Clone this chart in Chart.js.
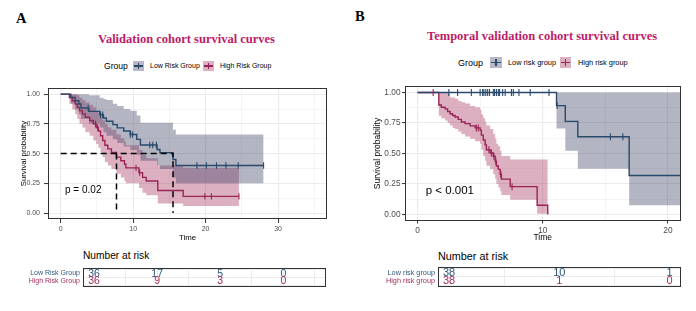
<!DOCTYPE html>
<html>
<head>
<meta charset="utf-8">
<script src="https://cdn.jsdelivr.net/npm/chart.js@4.4.1/dist/chart.umd.min.js"></script>
<style>
body { margin: 0; background: #fff; }
#wrap { position: relative; width: 696px; height: 311px; overflow: hidden; font-family: 'Liberation Sans', Arial, sans-serif; color: #000; }
.abs { position: absolute; white-space: nowrap; }
.tag { font-family: 'Liberation Serif', 'Times New Roman', serif; font-weight: bold; font-size: 14.5px; line-height: 16px; }
.title { font-family: 'Liberation Serif', 'Times New Roman', serif; font-weight: bold; font-size: 12.5px; line-height: 16px; color: #BC1B68; }
.key { position: absolute; }
.key i { position: absolute; display: block; }
.key i.h { left: 1px; right: 1px; top: 50%; height: 1.3px; margin-top: -0.65px; }
.key i.v { top: 20%; bottom: 20%; left: 50%; width: 1.2px; margin-left: -0.6px; }
canvas { position: absolute; }
</style>
</head>
<body>
<div id="wrap">
  <!-- パネルA -->
  <div class="abs tag" style="left:16px;top:10px;">A</div>
  <div class="abs title" style="left:98px;top:31px;">Validation cohort survival curves</div>
  <div class="abs" style="left:104px;top:60px;font-size:8.6px;line-height:12px;">Group</div>
  <div class="key" style="left:133px;top:61px;width:11px;height:10px;background:#B7B7C6;"><i class="h" style="background:#29496B"></i><i class="v" style="background:#29496B"></i></div>
  <div class="abs" style="left:150px;top:60px;font-size:7px;line-height:12px;">Low Risk Group</div>
  <div class="key" style="left:203px;top:61px;width:11px;height:10px;background:#DBB1C1;"><i class="h" style="background:#992456"></i><i class="v" style="background:#992456"></i></div>
  <div class="abs" style="left:220px;top:60px;font-size:7px;line-height:12px;">High Risk Group</div>
  <canvas id="survA" width="340" height="165" style="left:0;top:80px;"></canvas>
  <div class="abs" style="left:83px;top:250px;font-size:10.2px;line-height:12px;">Number at risk</div>
  <canvas id="riskA" width="340" height="32" style="left:0;top:262px;"></canvas>

  <!-- パネルB -->
  <div class="abs tag" style="left:355px;top:8px;">B</div>
  <div class="abs title" style="left:427px;top:28px;">Temporal validation cohort survival curves</div>
  <div class="abs" style="left:458px;top:57px;font-size:9px;line-height:12px;">Group</div>
  <div class="key" style="left:490px;top:57px;width:12px;height:11px;background:#B7B7C6;"><i class="h" style="background:#29496B"></i><i class="v" style="background:#29496B"></i></div>
  <div class="abs" style="left:508px;top:57px;font-size:7.4px;line-height:12px;">Low risk group</div>
  <div class="key" style="left:560px;top:57px;width:11px;height:11px;background:#DBB1C1;"><i class="h" style="background:#992456"></i><i class="v" style="background:#992456"></i></div>
  <div class="abs" style="left:578px;top:57px;font-size:7.4px;line-height:12px;">High risk group</div>
  <canvas id="survB" width="340" height="165" style="left:356px;top:80px;"></canvas>
  <div class="abs" style="left:438px;top:250px;font-size:10.8px;line-height:12px;">Number at risk</div>
  <canvas id="riskB" width="340" height="32" style="left:356px;top:261px;"></canvas>
</div>

<script>
const FONT = "'Liberation Sans', Arial, sans-serif";
const BLUE = '#29496B';
const RED = '#992456';
const BLUE_FILL = 'rgba(58,60,98,0.38)';
const RED_FILL = 'rgba(160,40,85,0.37)';
const BLUE_TEXT = '#2E5878';
const RED_TEXT = '#A52E5E';

// y軸の目盛り（共通）
const yMajor = [0, 0.25, 0.5, 0.75, 1];
const yMinor = [0.125, 0.375, 0.625, 0.875];
const yTickLabels = ['0.00', '0.25', '0.50', '0.75', '1.00'];

// ===== A: Validation cohort =====
const xMajorA = [0, 10, 20, 30];
const xMinorA = [5, 15, 25, 35];
const xTickLabelsA = ['0', '10', '20', '30'];

// Low Risk Group（時間・生存率・信頼区間）
const timeLowA  = [0, 1.4, 2.0, 2.5, 2.8, 3.9, 5.4, 5.9, 6.3, 7.2, 7.8, 8.7, 9.6, 10.5, 11.0, 13.3, 13.7, 15.5, 15.9, 28.0];
const survLowA  = [1, 0.972, 0.944, 0.917, 0.883, 0.855, 0.827, 0.80, 0.772, 0.744, 0.716, 0.69, 0.66, 0.62, 0.572, 0.535, 0.508, 0.45, 0.40, 0.40];
const upperLowA = [1, 1, 1, 1, 1, 0.99, 0.97, 0.96, 0.95, 0.92, 0.90, 0.875, 0.86, 0.82, 0.76, 0.76, 0.76, 0.70, 0.66, 0.66];
const lowerLowA = [1, 0.92, 0.87, 0.83, 0.79, 0.75, 0.72, 0.68, 0.65, 0.62, 0.59, 0.56, 0.53, 0.49, 0.44, 0.40, 0.37, 0.30, 0.25, 0.25];
const censorLowA = [3.8, 5.5, 5.8, 9.6, 9.9, 12.3, 12.7, 13.2, 18.8, 20.1, 21.5, 22.8, 24.5, 28.0];

// High Risk Group
const timeHighA  = [0, 1.2, 1.6, 2.0, 2.3, 2.6, 3.0, 3.4, 4.0, 4.5, 4.9, 5.2, 5.5, 5.8, 6.1, 6.5, 7.0, 7.7, 8.3, 8.8, 9.0, 10.8, 11.3, 11.8, 13.4, 16.9, 24.6];
const survHighA  = [1, 0.972, 0.944, 0.917, 0.889, 0.861, 0.833, 0.806, 0.778, 0.75, 0.72, 0.69, 0.65, 0.61, 0.57, 0.54, 0.51, 0.47, 0.44, 0.41, 0.38, 0.34, 0.30, 0.27, 0.19, 0.14, 0.14];
const upperHighA = [1, 1, 1, 1, 0.99, 0.97, 0.95, 0.93, 0.91, 0.89, 0.86, 0.84, 0.81, 0.78, 0.75, 0.72, 0.70, 0.66, 0.63, 0.60, 0.57, 0.53, 0.49, 0.46, 0.40, 0.38, 0.38];
const lowerHighA = [1, 0.92, 0.87, 0.83, 0.79, 0.75, 0.72, 0.68, 0.65, 0.61, 0.58, 0.55, 0.51, 0.47, 0.43, 0.40, 0.37, 0.33, 0.30, 0.27, 0.25, 0.21, 0.17, 0.15, 0.08, 0.06, 0.06];
const censorHighA = [4.8, 5.1, 10.4, 10.9, 19.9, 20.8, 24.6];

// 生存期間中央値（High, Low）
const mediansA = [7.7, 15.5];

// Number at risk
const riskTimesA = [0, 10, 20, 30];
const riskLowA = [36, 17, 5, 0];
const riskHighA = [36, 9, 3, 0];
const rowLabelsA = ['Low Risk Group', 'High Risk Group'];

// ===== B: Temporal validation cohort =====
const xMajorB = [0, 10, 20];
const xMinorB = [5, 15];
const xTickLabelsB = ['0', '10', '20'];

const timeLowB  = [0, 11.1, 11.8, 12.8, 16.9, 21.5];
const survLowB  = [1, 0.893, 0.764, 0.637, 0.319, 0.319];
const upperLowB = [1, 1, 1, 1, 1, 1];
const lowerLowB = [1, 0.705, 0.523, 0.375, 0.075, 0.075];
const censorLowB = [2.5, 3.2, 4.3, 5.0, 5.2, 5.3, 5.45, 5.6, 5.75, 6.05, 6.15, 6.3, 6.45, 6.55, 6.8, 7.0, 7.5, 7.65, 8.1, 9.0, 10.5, 11.15, 15.4, 16.4];

const timeHighB  = [0, 1.7, 1.9, 2.2, 2.4, 2.6, 2.8, 3.0, 3.25, 3.5, 3.8, 4.2, 4.6, 5.0, 5.1, 5.25, 5.4, 5.5, 5.8, 6.05, 6.2, 6.3, 6.45, 6.6, 6.7, 7.4, 9.55, 10.4];
const survHighB  = [1, 0.898, 0.879, 0.866, 0.845, 0.826, 0.812, 0.799, 0.78, 0.759, 0.745, 0.727, 0.71, 0.692, 0.651, 0.611, 0.571, 0.531, 0.504, 0.477, 0.437, 0.397, 0.37, 0.33, 0.29, 0.228, 0.075, 0];
const upperHighB = [1, 1, 1, 1, 0.99, 0.96, 0.96, 0.95, 0.93, 0.92, 0.91, 0.89, 0.88, 0.86, 0.82, 0.79, 0.76, 0.73, 0.70, 0.66, 0.62, 0.58, 0.56, 0.52, 0.48, 0.45, 0.45, 0.45];
const lowerHighB = [1, 0.81, 0.79, 0.77, 0.75, 0.73, 0.71, 0.70, 0.68, 0.66, 0.64, 0.62, 0.60, 0.58, 0.53, 0.48, 0.44, 0.40, 0.37, 0.33, 0.29, 0.25, 0.22, 0.19, 0.16, 0.12, 0.005, 0.005];
const censorHighB = [1.25, 4.7, 4.85, 5.7, 5.9, 6.1, 6.25, 6.65, 7.55];

const riskTimesB = [0, 10, 20];
const riskLowB = [38, 10, 1];
const riskHighB = [38, 1, 0];
const rowLabelsB = ['Low risk group', 'High risk group'];

// {x, y} の配列にする
function xy(times, values) {
    return times.map((t, i) => ({ x: t, y: values[i] }));
}

// 打ち切り時点の生存率を階段関数から読む
function survAt(times, surv, t) {
    let s = surv[0];
    for (let i = 0; i < times.length; i++) {
        if (times[i] <= t) s = surv[i];
    }
    return s;
}

function censorXY(ticks, times, surv) {
    return ticks.map(t => ({ x: t, y: survAt(times, surv, t) }));
}

// 中央値の破線（横線 + 縦線）
function medianXY(medians) {
    if (!medians.length) return [];
    const last = Math.max(...medians);
    const pts = [{ x: 0, y: 0.5 }, { x: last, y: 0.5 }];
    medians.slice().sort((a, b) => b - a).forEach(m => {
        pts.push({ x: m, y: 0.5 }, { x: m, y: 0 }, { x: m, y: null });
    });
    return pts;
}

// パネルの枠線（out で上下に少し広げる）
function borderPlugin(out) {
    const o = out || { top: 0, bottom: 0 };
    return {
        id: 'panelBorder',
        afterDraw(chart) {
            const a = chart.chartArea;
            const ctx = chart.ctx;
            const top = Math.round(a.top - o.top);
            const bottom = Math.round(a.bottom + o.bottom);
            ctx.save();
            ctx.strokeStyle = '#333333';
            ctx.lineWidth = 1;
            ctx.strokeRect(Math.round(a.left) + 0.5, top + 0.5, Math.round(a.right - a.left) - 1, bottom - top - 1);
            ctx.restore();
        }
    };
}

// p値の文字
function pTextPlugin(text, x, y, size) {
    return {
        id: 'pText',
        afterDatasetsDraw(chart) {
            const ctx = chart.ctx;
            ctx.save();
            ctx.font = size + 'px ' + FONT;
            ctx.fillStyle = '#000';
            ctx.textAlign = 'left';
            ctx.textBaseline = 'middle';
            ctx.fillText(text, chart.scales.x.getPixelForValue(x), chart.scales.y.getPixelForValue(y));
            ctx.restore();
        }
    };
}

// Number at risk の数字
function riskTextPlugin(times, rows, colors, size) {
    return {
        id: 'riskText',
        afterDraw(chart) {
            const ctx = chart.ctx;
            ctx.save();
            ctx.font = size + 'px ' + FONT;
            ctx.textAlign = 'center';
            ctx.textBaseline = 'middle';
            rows.forEach((row, r) => {
                ctx.fillStyle = colors[r];
                row.forEach((n, i) => {
                    ctx.fillText(String(n), chart.scales.x.getPixelForValue(times[i]), chart.scales.y.getPixelForValue(r) + 0.5);
                });
            });
            ctx.restore();
        }
    };
}

function drawSurvival(id, p) {
    const xTicks = p.xMajor.concat(p.xMinor).sort((a, b) => a - b);
    const yTicks = yMajor.concat(yMinor).sort((a, b) => a - b);
    const majX = ctx => ctx.tick && p.xMajor.includes(ctx.tick.value);
    const majY = ctx => ctx.tick && yMajor.includes(ctx.tick.value);
    const band = (times, vals, color, fill) => ({
        data: xy(times, vals), stepped: true, fill: fill, backgroundColor: color,
        borderColor: 'rgba(0,0,0,0)', borderWidth: 0, pointRadius: 0, order: 4
    });
    const curve = (times, vals, color) => ({
        data: xy(times, vals), stepped: true, fill: false, borderColor: color,
        borderWidth: 1.4, pointRadius: 0, order: 2
    });
    const marks = (pts, color) => ({
        data: pts, showLine: false, pointStyle: 'line', rotation: 90, pointRadius: p.tickR,
        borderColor: color, backgroundColor: color, borderWidth: 1.1, order: 1
    });

    return new Chart(document.getElementById(id), {
        type: 'line',
        data: {
            datasets: [
                band(p.lowT, p.lowUp, BLUE_FILL, '+1'),
                band(p.lowT, p.lowLo, 'rgba(0,0,0,0)', false),
                band(p.highT, p.highUp, RED_FILL, '+1'),
                band(p.highT, p.highLo, 'rgba(0,0,0,0)', false),
                curve(p.lowT, p.lowS, BLUE),
                curve(p.highT, p.highS, RED),
                marks(censorXY(p.lowC, p.lowT, p.lowS), BLUE),
                marks(censorXY(p.highC, p.highT, p.highS), RED),
                {
                    data: medianXY(p.medians), borderColor: '#000', borderDash: [6, 4],
                    borderWidth: 1.5, pointRadius: 0, fill: false, spanGaps: false, order: 0
                }
            ]
        },
        options: {
            responsive: false,
            animation: false,
            devicePixelRatio: 1,
            events: [],
            layout: { padding: p.pad },
            scales: {
                x: {
                    type: 'linear', min: p.xMin, max: p.xMax,
                    afterBuildTicks: s => { s.ticks = xTicks.map(v => ({ value: v })); },
                    afterFit: s => { s.height = p.xAxisH; },
                    border: { display: false },
                    grid: {
                        color: '#EBEBEB',
                        lineWidth: ctx => majX(ctx) ? 1.1 : 0.55,
                        tickLength: p.tickLen,
                        tickWidth: 1,
                        tickColor: ctx => majX(ctx) ? '#333333' : 'rgba(0,0,0,0)'
                    },
                    ticks: {
                        autoSkip: false, maxRotation: 0, padding: p.xPad, color: '#4D4D4D',
                        font: { family: FONT, size: p.tickSize },
                        callback: v => { const i = p.xMajor.indexOf(v); return i >= 0 ? p.xLabels[i] : ''; }
                    },
                    title: {
                        display: true, text: 'Time', color: '#000',
                        font: { family: FONT, size: p.titleSize, lineHeight: 1 },
                        padding: { top: 0, bottom: p.xTitlePad }
                    }
                },
                y: {
                    type: 'linear', min: -0.05, max: 1.05,
                    afterBuildTicks: s => { s.ticks = yTicks.map(v => ({ value: v })); },
                    afterFit: s => { s.width = p.yAxisW; },
                    border: { display: false },
                    grid: {
                        color: '#EBEBEB',
                        lineWidth: ctx => majY(ctx) ? 1.1 : 0.55,
                        tickLength: p.tickLen,
                        tickWidth: 1,
                        tickColor: ctx => majY(ctx) ? '#333333' : 'rgba(0,0,0,0)'
                    },
                    ticks: {
                        autoSkip: false, padding: p.yPad, color: '#4D4D4D',
                        font: { family: FONT, size: p.tickSize },
                        callback: v => { const i = yMajor.indexOf(v); return i >= 0 ? yTickLabels[i] : ''; }
                    },
                    title: {
                        display: true, text: 'Survival probability', color: '#000',
                        font: { family: FONT, size: p.titleSize, lineHeight: 1 },
                        padding: { top: p.yTitlePad, bottom: 0 }
                    }
                }
            },
            plugins: { legend: { display: false }, tooltip: { enabled: false } }
        },
        plugins: [borderPlugin(), pTextPlugin(p.pText, p.pX, p.pY, p.pSize)]
    });
}

function drawRisk(id, p) {
    return new Chart(document.getElementById(id), {
        type: 'scatter',
        data: { datasets: [] },
        options: {
            responsive: false,
            animation: false,
            devicePixelRatio: 1,
            events: [],
            layout: { padding: p.pad },
            scales: {
                x: {
                    type: 'linear', min: p.xMin, max: p.xMax,
                    afterBuildTicks: s => { s.ticks = p.gridX.map(v => ({ value: v })); },
                    afterFit: s => { s.height = p.xAxisH; },
                    border: { display: false },
                    grid: { color: '#EBEBEB', lineWidth: 1, drawTicks: false },
                    ticks: { display: false }
                },
                y: {
                    type: 'category', labels: p.rowLabels, offset: true,
                    afterFit: s => { s.width = p.yAxisW; },
                    border: { display: false },
                    grid: { color: '#EBEBEB', lineWidth: 1, drawTicks: false, offset: true },
                    ticks: {
                        autoSkip: false,
                        padding: 3,
                        color: ctx => ctx.index === 0 ? BLUE_TEXT : RED_TEXT,
                        font: { family: FONT, size: p.labelSize }
                    }
                }
            },
            plugins: { legend: { display: false }, tooltip: { enabled: false } }
        },
        plugins: [borderPlugin({ top: 1, bottom: 2 }), riskTextPlugin(p.times, p.rows, [BLUE_TEXT, RED_TEXT], p.numSize)]
    });
}

// グラフを描画
drawSurvival('survA', {
    xMin: -1.75, xMax: 36.75, xMajor: xMajorA, xMinor: xMinorA, xLabels: xTickLabelsA,
    lowT: timeLowA, lowS: survLowA, lowUp: upperLowA, lowLo: lowerLowA, lowC: censorLowA,
    highT: timeHighA, highS: survHighA, highUp: upperHighA, highLo: lowerHighA, highC: censorHighA,
    medians: mediansA,
    pText: 'p = 0.02', pX: 0.6, pY: 0.19, pSize: 10,
    pad: { top: 7, right: 13, left: 0, bottom: 0 }, xAxisH: 26, yAxisW: 48,
    tickLen: 4, xPad: 2, yPad: 4, tickSize: 7, titleSize: 7.8, xTitlePad: 3, yTitlePad: 19.5, tickR: 3.2
});

// 表の行：上下の枠は plugin で 1px / 2px 外側に描く
drawRisk('riskA', {
    xMin: -1.75, xMax: 36.75, gridX: xMajorA.concat(xMinorA),
    rowLabels: rowLabelsA, times: riskTimesA, rows: [riskLowA, riskHighA],
    pad: { top: 6, right: 14, left: 0, bottom: 0 }, xAxisH: 9, yAxisW: 83,
    labelSize: 7, numSize: 10.5
});

drawSurvival('survB', {
    xMin: -1, xMax: 21, xMajor: xMajorB, xMinor: xMinorB, xLabels: xTickLabelsB,
    lowT: timeLowB, lowS: survLowB, lowUp: upperLowB, lowLo: lowerLowB, lowC: censorLowB,
    highT: timeHighB, highS: survHighB, highUp: upperHighB, highLo: lowerHighB, highC: censorHighB,
    medians: [],
    pText: 'p < 0.001', pX: 0.65, pY: 0.195, pSize: 11.5,
    pad: { top: 4, right: 15.5, left: 0, bottom: 0 }, xAxisH: 24.5, yAxisW: 49,
    tickLen: 3, xPad: 2, yPad: 1.5, tickSize: 8.3, titleSize: 8.5, xTitlePad: 3.5, yTitlePad: 17.5, tickR: 3.5
});

drawRisk('riskB', {
    xMin: -1, xMax: 21, gridX: xMajorB.concat(xMinorB),
    rowLabels: rowLabelsB, times: riskTimesB, rows: [riskLowB, riskHighB],
    pad: { top: 6, right: 15.3, left: 0, bottom: 0 }, xAxisH: 8, yAxisW: 82,
    labelSize: 7.3, numSize: 11
});
</script>
</body>
</html>
